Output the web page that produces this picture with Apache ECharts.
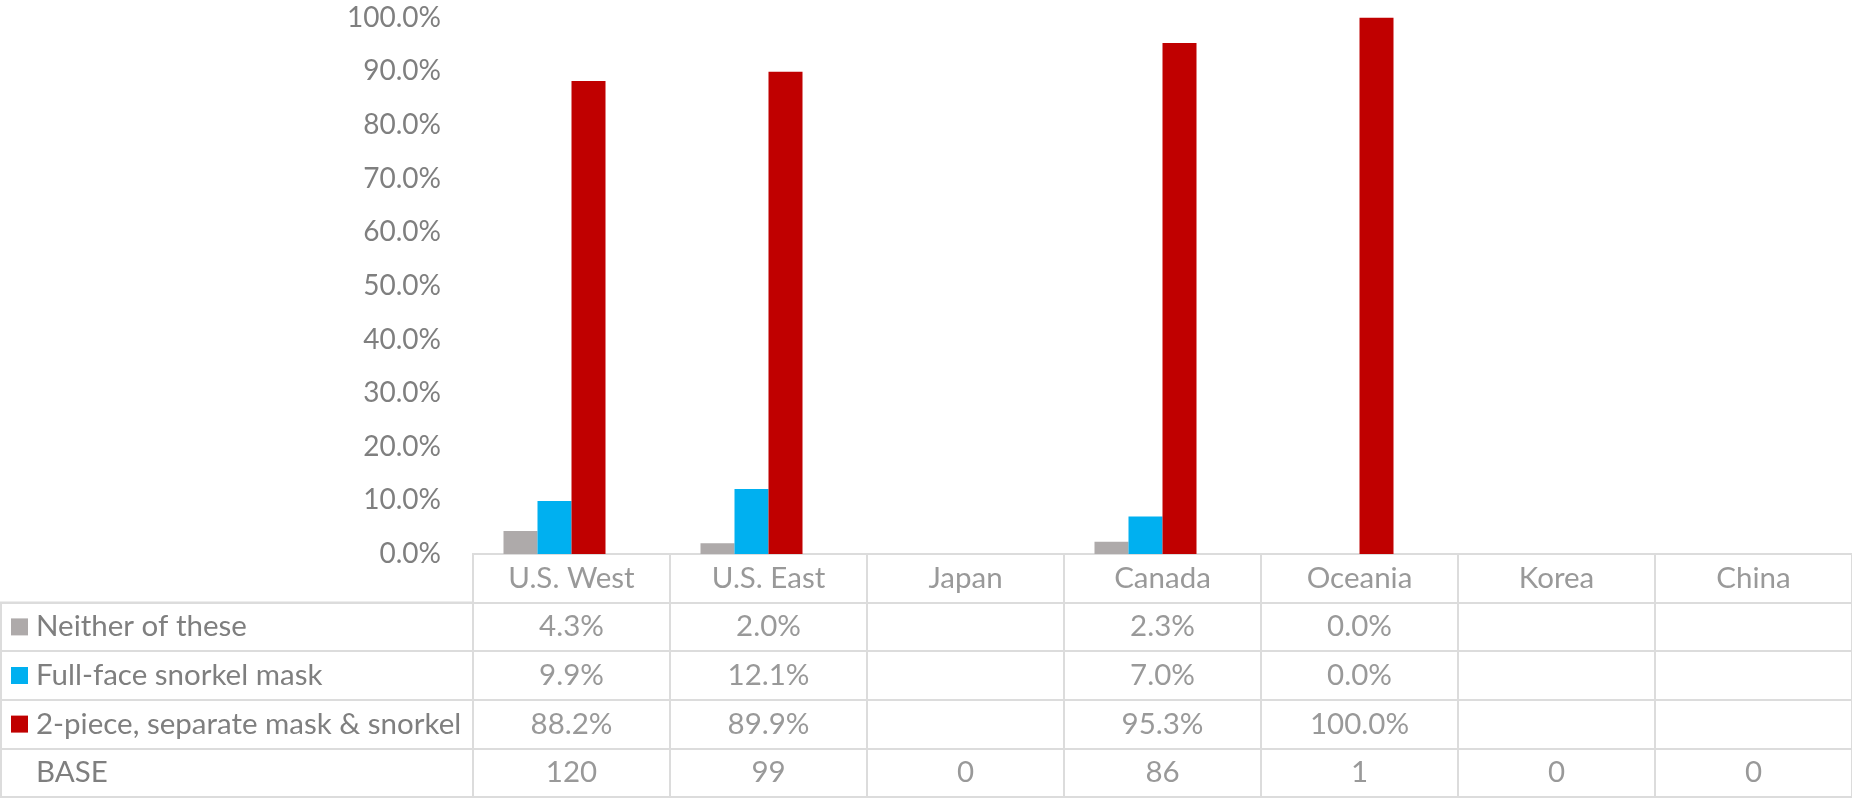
<!DOCTYPE html>
<html>
<head>
<meta charset="utf-8">
<style>
  html, body { margin: 0; padding: 0; background: #fff; }
  #chart { width: 1852px; height: 798px; }
</style>
<script src="https://cdn.jsdelivr.net/npm/echarts@6/dist/echarts.min.js"></script>
</head>
<body>
<div id="chart"></div>
<script>
// categories and values (percent)
var regions = ['U.S. West', 'U.S. East', 'Japan', 'Canada', 'Oceania', 'Korea', 'China'];
var neither = [4.3, 2.0, null, 2.3, 0.0, null, null];
var fullFace = [9.9, 12.1, null, 7.0, 0.0, null, null];
var twoPiece = [88.2, 89.9, null, 95.3, 100.0, null, null];
var base = [120, 99, 0, 86, 1, 0, 0];
var seriesNames = ['Neither of these', 'Full-face snorkel mask', '2-piece, separate mask & snorkel', 'BASE'];
var colors = ['#AEAAAA', '#00B0F0', '#C00000', 'rgba(0,0,0,0)'];

var FONT = 'Lato';
var TXT = '#7f7f7f';
var LINE = '#dcdcdc';

function pct(v) { return v == null ? '' : v.toFixed(1) + '%'; }

// table cells: [col, row, text]
var rowKeys = ['head', 'r0', 'r1', 'r2', 'r3'];
var cells = [];
regions.forEach(function (r, i) {
  cells.push([i, 0, r]);
  cells.push([i, 1, pct(neither[i])]);
  cells.push([i, 2, pct(fullFace[i])]);
  cells.push([i, 3, pct(twoPiece[i])]);
  cells.push([i, 4, String(base[i])]);
});

var dom = document.getElementById('chart');
var myChart = echarts.init(dom, null, { renderer: 'canvas' });

var rich = { t: { fontFamily: FONT, fontSize: 29.5, color: TXT, padding: [0, 0, 0, 8] } };
colors.forEach(function (c, i) {
  rich['sq' + i] = { width: 17, height: 17, backgroundColor: c };
});

var option = {
  animation: false,
  textStyle: { fontFamily: FONT },
  grid: [
    { left: 473, right: 0, top: 17.7, height: 536.3 },
    { left: 473, right: 0, top: 554, bottom: 1, show: true, borderColor: LINE, borderWidth: 2 },
    { left: 1, width: 472, top: 602.6, bottom: 1, show: true, borderColor: LINE, borderWidth: 2 }
  ],
  xAxis: [
    {
      type: 'category', gridIndex: 0, data: regions,
      axisLine: { show: false }, axisTick: { show: false }, axisLabel: { show: false }
    },
    {
      type: 'category', gridIndex: 1, data: regions,
      axisLine: { show: false }, axisTick: { show: false }, axisLabel: { show: false },
      splitLine: { show: true, interval: 0, lineStyle: { color: LINE, width: 2 } }
    },
    {
      type: 'value', gridIndex: 2, show: false
    }
  ],
  yAxis: [
    {
      type: 'value', gridIndex: 0, min: 0, max: 100, interval: 10,
      splitLine: { show: false }, axisLine: { show: false }, axisTick: { show: false },
      axisLabel: {
        color: TXT, fontSize: 28, fontFamily: FONT, margin: 32,
        formatter: function (v) { return v.toFixed(1) + '%'; }
      }
    },
    {
      type: 'category', gridIndex: 1, data: rowKeys, inverse: true,
      axisLine: { show: false }, axisTick: { show: false }, axisLabel: { show: false },
      splitLine: { show: true, interval: 0, lineStyle: { color: LINE, width: 2 } }
    },
    {
      type: 'category', gridIndex: 2, data: seriesNames, inverse: true,
      axisLine: { show: false }, axisTick: { show: false },
      splitLine: { show: true, interval: 0, lineStyle: { color: LINE, width: 2 } },
      axisLabel: {
        inside: true, margin: 10, interval: 0,
        formatter: function (v, i) { return '{sq' + i + '| }{t|' + v + '}'; },
        rich: rich
      }
    }
  ],
  series: [
    { name: seriesNames[0], type: 'bar', data: neither, barWidth: 34, barGap: '0%', itemStyle: { color: colors[0] } },
    { name: seriesNames[1], type: 'bar', data: fullFace, barWidth: 34, barGap: '0%', itemStyle: { color: colors[1] } },
    { name: seriesNames[2], type: 'bar', data: twoPiece, barWidth: 34, barGap: '0%', itemStyle: { color: colors[2] } },
    { name: seriesNames[3], type: 'bar', data: base, barWidth: 34, barGap: '0%', silent: true, itemStyle: { color: colors[3] } },
    {
      name: 'table', type: 'scatter', xAxisIndex: 1, yAxisIndex: 1,
      data: cells, symbol: 'rect', symbolSize: 2, silent: true,
      itemStyle: { color: 'rgba(0,0,0,0)' },
      label: {
        show: true, position: 'inside', color: TXT, fontSize: 29.5, fontFamily: FONT,
        formatter: function (p) { return p.data[2]; }
      }
    }
  ]
};

myChart.setOption(option);
</script>
</body>
</html>
